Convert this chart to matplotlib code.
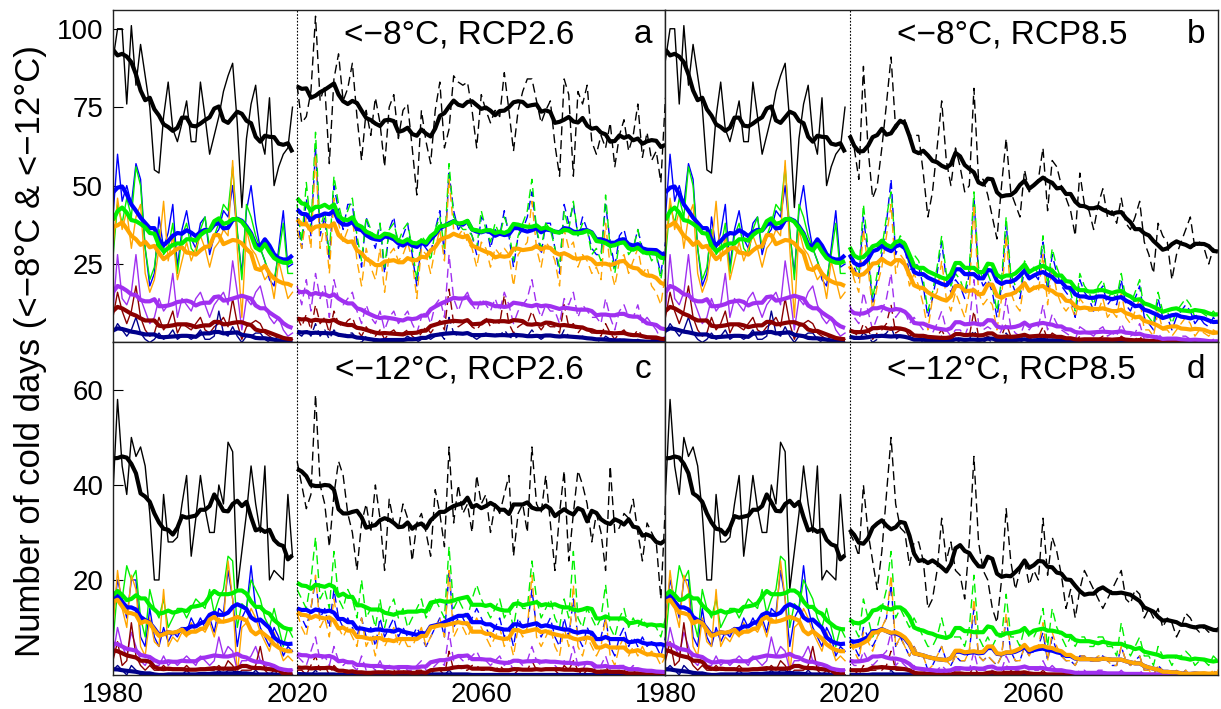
import numpy as np
import pandas as pd
import matplotlib
matplotlib.use("Agg")
import matplotlib.pyplot as plt

plt.rcParams["font.family"] = ["Liberation Sans", "DejaVu Sans"]

# ================= YEARS =================

YEARS_HIST = np.arange(1980, 2020)
YEARS_FUT = np.arange(2020, 2101)

# ================= OBSERVED 1980-2019, < -8 C =================

BLACK_H8 = [90, 100, 100, 76, 101, 82, 95, 85, 75, 55,
            54, 72, 83, 68, 64, 70, 77, 64, 64, 83,
            72, 60, 66, 72, 80, 85, 89, 70, 43, 65,
            76, 82, 66, 60, 78, 50, 56, 60, 62, 75]
BLUE_H8 = [40, 60, 45, 50, 44, 57, 52, 30, 18, 22,
           40, 30, 35, 44, 24, 36, 42, 33, 30, 38,
           40, 28, 34, 36, 42, 40, 50, 35, 22, 42,
           50, 38, 30, 26, 20, 18, 30, 42, 24, 25]
GREEN_H8 = [27, 44, 38, 46, 40, 56, 50, 30, 20, 24,
            36, 28, 30, 38, 22, 34, 38, 30, 28, 36,
            40, 30, 34, 38, 44, 42, 56, 36, 20, 44,
            40, 34, 30, 26, 22, 20, 28, 38, 22, 22]
ORANGE_H8 = [30, 46, 36, 42, 30, 40, 44, 22, 16, 20,
             30, 45, 26, 34, 20, 26, 32, 26, 30, 34,
             30, 24, 30, 32, 36, 34, 58, 30, 8, 36,
             30, 28, 24, 20, 22, 14, 26, 20, 14, 16]
PURPLE_H8 = [10, 28, 14, 12, 16, 28, 14, 10, 6, 8,
             14, 10, 12, 22, 8, 14, 12, 10, 14, 16,
             12, 8, 12, 14, 16, 12, 26, 16, 4, 14,
             12, 16, 18, 12, 8, 6, 8, 4, 2, 3]
DARKRED_H8 = [8, 16, 10, 6, 10, 18, 8, 4, 2, 3,
              8, 4, 6, 10, 3, 6, 5, 4, 6, 8,
              4, 3, 5, 6, 8, 5, 14, 6, 1, 5,
              6, 7, 6, 3, 2, 1, 2, 1, 0, 1]
NAVY_H8 = [3, 6, 4, 2, 4, 8, 3, 1, 0, 1,
           3, 1, 2, 4, 1, 2, 2, 1, 2, 4,
           1, 1, 2, 10, 3, 2, 5, 2, 0, 2,
           2, 3, 3, 1, 0, 0, 1, 0, 0, 0]

# ================= OBSERVED 1980-2019, < -12 C =================

BLACK_H12 = [38, 58, 44, 38, 50, 46, 48, 44, 34, 20,
             20, 38, 28, 28, 29, 36, 42, 25, 33, 42,
             35, 30, 30, 40, 36, 49, 47, 18, 26, 34,
             44, 36, 30, 44, 20, 22, 21, 20, 38, 25]
BLUE_H12 = [12, 20, 16, 12, 20, 20, 8, 6, 14, 8,
            6, 10, 7, 9, 8, 10, 9, 12, 10, 12,
            10, 12, 9, 14, 13, 22, 16, 6, 12, 14,
            23, 14, 10, 8, 6, 10, 8, 4, 6, 5]
GREEN_H12 = [7, 18, 16, 23, 20, 22, 12, 8, 18, 14,
             12, 16, 10, 12, 14, 14, 12, 14, 16, 15,
             14, 18, 13, 16, 18, 25, 24, 10, 15, 14,
             20, 18, 16, 12, 10, 14, 10, 6, 10, 8]
ORANGE_H12 = [10, 22, 14, 10, 21, 18, 6, 4, 12, 7,
              6, 18, 6, 8, 7, 9, 8, 11, 9, 10,
              9, 11, 8, 12, 11, 24, 16, 0, 10, 11,
              14, 12, 9, 7, 5, 9, 6, 3, 4, 3]
PURPLE_H12 = [4, 10, 6, 4, 9, 6, 3, 2, 4, 2,
              2, 4, 2, 3, 2, 3, 4, 3, 2, 4,
              3, 2, 3, 8, 4, 6, 5, 1, 3, 3,
              4, 6, 3, 2, 1, 2, 1, 0, 1, 1]
DARKRED_H12 = [3, 7, 2, 3, 11, 4, 2, 1, 2, 1,
               1, 2, 1, 1, 1, 1, 2, 1, 1, 1,
               1, 1, 1, 2, 1, 3, 2, 0, 1, 1,
               1, 2, 6, 1, 0, 1, 0, 0, 0, 0]
NAVY_H12 = [1, 2, 1, 0, 2, 1, 0, 0, 0, 0,
            0, 0, 0, 0, 0, 0, 1, 0, 0, 0,
            0, 0, 0, 1, 0, 1, 1, 0, 0, 0,
            0, 1, 0, 0, 0, 0, 0, 0, 0, 0]

# ================= PROJECTED 2020-2100, < -8 C, RCP2.6 (a) =================

BLACK_A = [82, 70, 72, 80, 104, 77, 82, 57, 84, 92,
           77, 81, 89, 72, 58, 74, 66, 78, 70, 56,
           75, 79, 65, 74, 76, 62, 47, 74, 64, 57,
           74, 83, 62, 68, 85, 83, 82, 83, 74, 62,
           79, 74, 70, 74, 72, 86, 74, 61, 74, 80,
           84, 84, 77, 70, 74, 77, 63, 53, 84, 79,
           53, 80, 76, 82, 64, 60, 66, 62, 70, 56,
           66, 71, 61, 66, 76, 59, 67, 58, 61, 51,
           78]
BLUE_A = [40, 30, 46, 34, 62, 34, 40, 26, 50, 42,
          36, 44, 44, 32, 24, 40, 34, 30, 38, 22,
          36, 40, 30, 34, 38, 28, 18, 32, 30, 28,
          36, 42, 28, 54, 42, 36, 38, 38, 34, 28,
          40, 38, 30, 36, 34, 42, 34, 24, 34, 36,
          40, 48, 36, 28, 38, 38, 30, 22, 44, 38,
          44, 34, 40, 36, 30, 28, 28, 44, 32, 24,
          34, 36, 30, 30, 36, 30, 30, 28, 28, 22,
          32]
GREEN_A = [44, 32, 51, 36, 67, 36, 42, 28, 53, 44,
           38, 42, 46, 34, 26, 40, 36, 32, 38, 24,
           36, 38, 32, 36, 38, 30, 20, 34, 32, 26,
           36, 40, 30, 57, 40, 38, 36, 36, 34, 30,
           42, 36, 32, 38, 34, 40, 36, 26, 34, 38,
           42, 52, 36, 30, 38, 36, 30, 24, 42, 36,
           45, 34, 38, 36, 28, 30, 26, 47, 30, 22,
           32, 34, 28, 30, 36, 28, 30, 26, 28, 20,
           30]
ORANGE_A = [36, 30, 40, 30, 60, 30, 38, 22, 46, 38,
            32, 36, 40, 26, 18, 30, 24, 20, 30, 16,
            28, 30, 26, 28, 32, 26, 14, 30, 28, 22,
            30, 36, 26, 52, 36, 34, 36, 32, 30, 24,
            32, 30, 24, 30, 28, 30, 28, 18, 28, 30,
            32, 45, 30, 24, 32, 30, 26, 18, 36, 30,
            32, 24, 28, 26, 22, 24, 20, 38, 24, 18,
            26, 28, 22, 26, 30, 22, 24, 18, 16, 12,
            22]
PURPLE_A = [18, 12, 20, 10, 22, 14, 18, 8, 20, 14,
            12, 14, 16, 10, 6, 12, 8, 6, 10, 4,
            8, 10, 6, 8, 10, 6, 3, 8, 10, 6,
            12, 14, 8, 28, 14, 10, 14, 16, 12, 10,
            14, 12, 10, 14, 10, 16, 12, 6, 10, 12,
            14, 20, 12, 8, 12, 10, 10, 6, 14, 12,
            16, 8, 12, 10, 8, 8, 6, 14, 8, 4,
            10, 12, 8, 8, 12, 6, 8, 6, 4, 1,
            2]
DARKRED_A = [8, 5, 9, 4, 12, 6, 8, 3, 10, 6,
             5, 7, 8, 4, 2, 5, 3, 2, 4, 1,
             3, 4, 2, 3, 4, 2, 1, 3, 5, 3,
             5, 7, 4, 17, 6, 5, 6, 7, 5, 4,
             6, 8, 5, 7, 6, 15, 6, 3, 5, 6,
             6, 10, 6, 4, 6, 5, 5, 3, 12, 5,
             6, 3, 5, 4, 3, 3, 2, 6, 3, 1,
             3, 4, 2, 2, 4, 2, 2, 1, 1, 0,
             1]
NAVY_A = [3, 2, 4, 2, 6, 2, 4, 1, 4, 2,
          2, 3, 3, 1, 0, 2, 1, 0, 1, 0,
          1, 1, 0, 1, 2, 1, 0, 1, 2, 1,
          2, 3, 1, 8, 3, 2, 3, 3, 2, 1,
          2, 3, 2, 3, 2, 4, 2, 1, 2, 2,
          2, 4, 2, 1, 2, 2, 2, 1, 4, 2,
          2, 1, 2, 1, 1, 1, 0, 2, 1, 0,
          1, 1, 0, 0, 1, 0, 1, 0, 0, 0,
          0]

# ================= PROJECTED 2020-2100, < -8 C, RCP8.5 (b) =================

BLACK_B = [66, 62, 52, 88, 62, 46, 50, 62, 76, 91,
           68, 70, 71, 66, 66, 66, 54, 40, 48, 62,
           77, 58, 50, 62, 56, 48, 50, 81, 52, 52,
           47, 40, 33, 50, 65, 48, 44, 40, 55, 48,
           50, 52, 62, 42, 58, 56, 50, 46, 42, 34,
           54, 44, 42, 36, 44, 49, 40, 42, 38, 46,
           38, 36, 40, 45, 32, 28, 22, 38, 34, 32,
           20, 28, 32, 36, 40, 30, 32, 30, 25, 30,
           28]
BLUE_B = [28, 24, 20, 40, 28, 12, 20, 28, 38, 52,
          28, 32, 30, 22, 26, 24, 18, 8, 14, 22,
          32, 20, 16, 20, 18, 14, 22, 46, 22, 18,
          20, 16, 8, 18, 38, 20, 16, 14, 24, 20,
          22, 20, 32, 16, 28, 22, 18, 16, 14, 8,
          20, 16, 14, 10, 16, 18, 12, 14, 12, 20,
          12, 10, 14, 18, 8, 6, 4, 14, 8, 8,
          4, 8, 10, 12, 10, 6, 8, 6, 5, 8,
          6]
GREEN_B = [30, 26, 22, 44, 30, 14, 22, 30, 40, 48,
           30, 34, 32, 24, 28, 26, 20, 10, 16, 24,
           34, 22, 18, 22, 20, 16, 24, 48, 24, 20,
           22, 18, 10, 20, 40, 22, 18, 16, 26, 22,
           24, 22, 34, 18, 30, 24, 20, 18, 16, 10,
           22, 18, 16, 12, 18, 20, 14, 16, 14, 22,
           14, 12, 16, 20, 10, 8, 6, 16, 10, 10,
           6, 10, 12, 14, 12, 8, 10, 9, 8, 10,
           8]
ORANGE_B = [26, 20, 16, 36, 24, 10, 18, 24, 34, 44,
            22, 28, 26, 18, 22, 18, 12, 4, 14, 16,
            26, 14, 10, 16, 12, 8, 16, 44, 16, 12,
            14, 12, 4, 14, 34, 16, 12, 10, 20, 16,
            18, 16, 28, 12, 24, 16, 12, 10, 12, 8,
            14, 12, 10, 10, 10, 14, 8, 10, 8, 16,
            8, 6, 10, 14, 4, 4, 2, 10, 4, 4,
            2, 4, 6, 8, 6, 2, 4, 3, 2, 4,
            3]
PURPLE_B = [12, 8, 6, 16, 10, 4, 8, 10, 14, 22,
            8, 10, 10, 6, 8, 6, 4, 1, 3, 6,
            10, 4, 2, 4, 4, 2, 6, 20, 6, 4,
            5, 4, 1, 4, 14, 5, 3, 2, 6, 4,
            6, 5, 12, 4, 9, 6, 4, 3, 2, 1,
            5, 4, 3, 2, 4, 5, 2, 3, 2, 6,
            3, 2, 3, 6, 1, 1, 0, 3, 1, 1,
            0, 1, 2, 2, 1, 0, 1, 0, 0, 1,
            0]
DARKRED_B = [4, 3, 2, 6, 4, 1, 3, 4, 6, 12,
             3, 4, 4, 2, 3, 2, 1, 0, 1, 2,
             4, 1, 1, 2, 1, 1, 2, 10, 2, 1,
             2, 1, 0, 2, 6, 2, 1, 1, 2, 1,
             2, 2, 5, 1, 3, 2, 1, 1, 1, 0,
             2, 1, 1, 0, 1, 2, 1, 1, 0, 2,
             1, 0, 1, 2, 0, 0, 0, 1, 0, 0,
             0, 0, 1, 1, 0, 0, 0, 0, 0, 0,
             0]
NAVY_B = [2, 1, 1, 3, 2, 0, 1, 2, 3, 5,
          1, 2, 2, 1, 1, 1, 0, 0, 0, 1,
          2, 0, 0, 1, 0, 0, 1, 4, 1, 0,
          1, 0, 0, 1, 3, 1, 0, 0, 1, 0,
          1, 1, 2, 0, 1, 1, 0, 0, 0, 0,
          1, 0, 0, 0, 0, 1, 0, 0, 0, 1,
          0, 0, 0, 1, 0, 0, 0, 0, 0, 0,
          0, 0, 0, 0, 0, 0, 0, 0, 0, 0,
          0]

# ================= PROJECTED 2020-2100, < -12 C, RCP2.6 (c) =================

BLACK_C = [45, 40, 35, 38, 59, 40, 36, 27, 38, 45,
           42, 34, 30, 22, 32, 36, 30, 40, 33, 22,
           37, 32, 31, 36, 33, 24, 32, 34, 30, 25,
           39, 34, 27, 48, 32, 40, 34, 36, 30, 42,
           36, 38, 30, 36, 34, 38, 42, 25, 34, 36,
           30, 48, 36, 34, 42, 32, 22, 34, 43, 24,
           34, 43, 40, 36, 28, 34, 30, 22, 44, 30,
           31, 34, 33, 37, 30, 24, 32, 30, 28, 16,
           36]
BLUE_C = [14, 12, 10, 14, 20, 12, 14, 10, 18, 12,
          10, 12, 10, 8, 12, 8, 10, 6, 12, 8,
          10, 12, 8, 10, 8, 8, 10, 8, 6, 8,
          10, 12, 8, 22, 10, 12, 12, 10, 12, 14,
          12, 10, 8, 10, 12, 8, 10, 6, 12, 10,
          10, 18, 10, 8, 10, 12, 8, 6, 12, 8,
          16, 8, 6, 10, 8, 6, 8, 12, 6, 4,
          8, 10, 6, 8, 6, 8, 6, 7, 6, 4,
          8]
GREEN_C = [18, 16, 14, 20, 29, 16, 18, 14, 26, 16,
           14, 18, 16, 12, 20, 12, 14, 10, 16, 10,
           14, 16, 12, 14, 10, 12, 14, 16, 12, 14,
           16, 14, 12, 27, 14, 16, 14, 12, 16, 19,
           16, 14, 12, 14, 16, 12, 14, 10, 16, 14,
           14, 24, 16, 12, 14, 16, 12, 10, 16, 12,
           26, 12, 10, 14, 12, 10, 12, 19, 10, 8,
           12, 14, 10, 12, 10, 12, 10, 11, 10, 8,
           12]
ORANGE_C = [13, 10, 8, 14, 21, 10, 12, 8, 16, 10,
            8, 10, 8, 6, 12, 6, 8, 4, 10, 6,
            8, 10, 6, 8, 6, 6, 8, 10, 6, 8,
            10, 12, 8, 22, 8, 10, 10, 8, 10, 12,
            10, 8, 6, 8, 10, 6, 8, 4, 10, 8,
            10, 21, 8, 6, 8, 10, 6, 4, 10, 6,
            19, 6, 4, 8, 6, 4, 6, 12, 4, 2,
            6, 8, 4, 6, 4, 6, 4, 5, 4, 2,
            4]
PURPLE_C = [4, 3, 2, 5, 8, 3, 4, 2, 6, 3,
            2, 3, 2, 1, 4, 1, 2, 1, 3, 1,
            2, 2, 1, 2, 1, 1, 2, 3, 1, 1,
            2, 3, 2, 9, 3, 4, 3, 3, 4, 5,
            3, 3, 2, 3, 4, 2, 3, 1, 3, 2,
            3, 6, 3, 2, 3, 3, 2, 1, 3, 2,
            6, 2, 1, 3, 2, 1, 2, 4, 1, 0,
            2, 2, 1, 2, 1, 1, 1, 1, 0, 0,
            1]
DARKRED_C = [1, 1, 0, 2, 4, 1, 2, 0, 2, 1,
             1, 1, 0, 0, 1, 0, 1, 0, 1, 0,
             1, 1, 0, 1, 0, 0, 1, 1, 0, 0,
             1, 1, 0, 5, 1, 2, 1, 1, 2, 2,
             1, 1, 1, 1, 2, 1, 1, 0, 1, 1,
             1, 3, 1, 1, 1, 1, 1, 0, 2, 1,
             3, 1, 0, 1, 1, 0, 1, 2, 0, 0,
             1, 1, 0, 1, 0, 0, 0, 0, 0, 0,
             0]
NAVY_C = [0, 0, 0, 0, 1, 0, 0, 0, 0, 0,
          0, 0, 0, 0, 0, 0, 0, 0, 0, 0,
          0, 0, 0, 0, 0, 0, 0, 0, 0, 0,
          0, 0, 0, 1, 0, 0, 0, 0, 0, 0,
          0, 0, 0, 0, 0, 0, 0, 0, 0, 0,
          0, 0, 0, 0, 0, 0, 0, 0, 0, 0,
          0, 0, 0, 0, 0, 0, 0, 0, 0, 0,
          0, 0, 0, 0, 0, 0, 0, 0, 0, 0,
          0]

# ================= PROJECTED 2020-2100, < -12 C, RCP8.5 (d) =================

BLACK_D = [30, 28, 25, 40, 30, 24, 18, 26, 38, 50,
           36, 31, 30, 23, 28, 28, 24, 14, 16, 22,
           33, 24, 28, 22, 21, 16, 28, 46, 28, 22,
           20, 14, 11, 20, 35, 24, 18, 22, 24, 19,
           22, 20, 33, 21, 29, 26, 21, 14, 18, 12,
           18, 22, 20, 18, 16, 14, 16, 18, 20, 22,
           16, 15, 18, 17, 12, 14, 12, 14, 10, 12,
           11, 8, 10, 13, 12, 10, 9, 10, 9, 9,
           10]
BLUE_D = [8, 6, 4, 10, 8, 6, 8, 10, 12, 19,
          6, 8, 6, 4, 6, 4, 4, 1, 2, 4,
          6, 3, 2, 4, 3, 3, 5, 14, 4, 3,
          4, 3, 2, 4, 12, 5, 3, 3, 6, 4,
          5, 6, 9, 3, 8, 5, 4, 3, 3, 2,
          4, 4, 3, 3, 4, 4, 3, 2, 2, 6,
          3, 2, 3, 4, 1, 1, 0, 2, 1, 0,
          0, 1, 0, 1, 0, 0, 0, 0, 0, 1,
          0]
GREEN_D = [12, 10, 8, 16, 12, 8, 10, 14, 18, 26,
           12, 14, 12, 10, 12, 10, 8, 6, 6, 8,
           12, 8, 8, 8, 8, 6, 10, 21, 8, 6,
           8, 6, 8, 8, 17, 8, 8, 6, 10, 8,
           8, 10, 14, 6, 14, 10, 8, 6, 8, 6,
           8, 8, 6, 6, 8, 8, 6, 6, 4, 11,
           6, 4, 6, 8, 4, 4, 2, 6, 4, 4,
           2, 4, 4, 5, 4, 2, 3, 3, 2, 4,
           3]
ORANGE_D = [7, 5, 3, 9, 7, 5, 8, 10, 12, 21,
            6, 8, 6, 4, 6, 4, 4, 1, 2, 4,
            6, 3, 2, 4, 3, 3, 5, 16, 4, 3,
            4, 3, 2, 4, 13, 5, 3, 3, 6, 4,
            6, 6, 11, 3, 9, 6, 4, 3, 3, 2,
            4, 4, 3, 3, 4, 4, 3, 2, 2, 6,
            3, 2, 3, 4, 1, 1, 0, 2, 1, 0,
            0, 1, 0, 1, 0, 0, 0, 0, 0, 1,
            1]
PURPLE_D = [3, 2, 2, 5, 3, 2, 3, 4, 5, 9,
            2, 3, 2, 1, 2, 1, 1, 0, 1, 1,
            2, 1, 0, 1, 1, 1, 1, 5, 1, 1,
            1, 1, 0, 1, 4, 2, 1, 1, 2, 1,
            1, 1, 3, 1, 2, 1, 1, 0, 0, 0,
            1, 1, 0, 0, 1, 1, 0, 0, 0, 1,
            0, 0, 0, 1, 0, 0, 0, 0, 0, 0,
            0, 0, 0, 0, 0, 0, 0, 0, 0, 0,
            0]
DARKRED_D = [1, 1, 0, 2, 1, 1, 1, 1, 2, 5,
             1, 1, 1, 0, 1, 0, 0, 0, 0, 0,
             1, 0, 0, 0, 0, 0, 0, 2, 0, 0,
             0, 0, 0, 0, 2, 1, 0, 0, 1, 0,
             0, 0, 1, 0, 0, 0, 0, 0, 0, 0,
             0, 0, 0, 0, 0, 0, 0, 0, 0, 0,
             0, 0, 0, 0, 0, 0, 0, 0, 0, 0,
             0, 0, 0, 0, 0, 0, 0, 0, 0, 0,
             0]
NAVY_D = [0, 0, 0, 0, 0, 0, 0, 0, 0, 1,
          0, 0, 0, 0, 0, 0, 0, 0, 0, 0,
          0, 0, 0, 0, 0, 0, 0, 0, 0, 0,
          0, 0, 0, 0, 0, 0, 0, 0, 0, 0,
          0, 0, 0, 0, 0, 0, 0, 0, 0, 0,
          0, 0, 0, 0, 0, 0, 0, 0, 0, 0,
          0, 0, 0, 0, 0, 0, 0, 0, 0, 0,
          0, 0, 0, 0, 0, 0, 0, 0, 0, 0,
          0]

# ================= STYLE =================

COLORS = ["#000000", "#0000FF", "#00F000", "#FFA500",
          "#A030F0", "#8B0000", "#00008B"]
THICK_ORDER = [6, 5, 4, 1, 3, 2, 0]      # navy first, black last
SMOOTH_WIN = 9
THIN_LW, THICK_LW = 1.0, 3.0

HIST_8 = [BLACK_H8, BLUE_H8, GREEN_H8, ORANGE_H8, PURPLE_H8, DARKRED_H8, NAVY_H8]
HIST_12 = [BLACK_H12, BLUE_H12, GREEN_H12, ORANGE_H12, PURPLE_H12, DARKRED_H12, NAVY_H12]

PANELS = [
    dict(pos=(0, 0), title="<\u22128°C, RCP2.6", letter="a", hist=HIST_8,
         fut=[BLACK_A, BLUE_A, GREEN_A, ORANGE_A, PURPLE_A, DARKRED_A, NAVY_A],
         ymax=106, yticks=[25, 50, 75, 100]),
    dict(pos=(0, 1), title="<\u22128°C, RCP8.5", letter="b", hist=HIST_8,
         fut=[BLACK_B, BLUE_B, GREEN_B, ORANGE_B, PURPLE_B, DARKRED_B, NAVY_B],
         ymax=106, yticks=[25, 50, 75, 100]),
    dict(pos=(1, 0), title="<\u221212°C, RCP2.6", letter="c", hist=HIST_12,
         fut=[BLACK_C, BLUE_C, GREEN_C, ORANGE_C, PURPLE_C, DARKRED_C, NAVY_C],
         ymax=70, yticks=[20, 40, 60]),
    dict(pos=(1, 1), title="<\u221212°C, RCP8.5", letter="d", hist=HIST_12,
         fut=[BLACK_D, BLUE_D, GREEN_D, ORANGE_D, PURPLE_D, DARKRED_D, NAVY_D],
         ymax=70, yticks=[20, 40, 60]),
]


def smooth(vals):
    return pd.Series(vals, dtype=float).rolling(SMOOTH_WIN, center=True, min_periods=1).mean()


# ================= CHART =================

fig, axes = plt.subplots(2, 2, figsize=(12.21, 7.09), dpi=100)
fig.subplots_adjust(left=0.0925, right=0.9975, top=0.986, bottom=0.048,
                    wspace=0, hspace=0)

for p in PANELS:
    r, c = p["pos"]
    ax = axes[r, c]

    # thin yearly series: observed solid, projected dashed
    for k in list(range(1, 7)) + [0]:
        ax.plot(YEARS_HIST, p["hist"][k], color=COLORS[k], lw=THIN_LW)
        ax.plot(YEARS_FUT, p["fut"][k], color=COLORS[k], lw=THIN_LW,
                ls=(0, (6.5, 3.5)))

    # smoothed series on top
    for k in THICK_ORDER:
        ax.plot(YEARS_HIST, smooth(p["hist"][k]), color=COLORS[k], lw=THICK_LW,
                solid_capstyle="butt")
        ax.plot(YEARS_FUT, smooth(p["fut"][k]), color=COLORS[k], lw=THICK_LW,
                solid_capstyle="butt")

    ax.axvline(2020, color="k", lw=0.8, ls=(0, (1.5, 1.5)))

    ax.set_xlim(1980, 2100)
    ax.set_ylim(0, p["ymax"])
    ax.set_yticks(p["yticks"])
    ax.set_xticks([1980, 2020, 2060])

    if c == 0:
        ax.tick_params(axis="y", direction="in", length=7, labelsize=20, pad=7)
    else:
        ax.tick_params(axis="y", length=0, labelleft=False)
    if r == 1:
        ax.tick_params(axis="x", length=0, labelsize=20, pad=5)
    else:
        ax.tick_params(axis="x", length=0, labelbottom=False)

    for s in ax.spines.values():
        s.set_color("#222222")
        s.set_linewidth(1.0)

    ax.text(0.627, 0.925 if r == 0 else 0.918, p["title"], transform=ax.transAxes,
            ha="center", va="center", fontsize=24)
    ax.text(0.96, 0.925 if r == 0 else 0.918, p["letter"], transform=ax.transAxes,
            ha="center", va="center", fontsize=24)

fig.text(0.025, 0.505, "Number of cold days (<\u22128°C & <\u221212°C)",
         rotation=90, ha="center", va="center", fontsize=25)

plt.savefig("out.png", dpi=100)
plt.close()
